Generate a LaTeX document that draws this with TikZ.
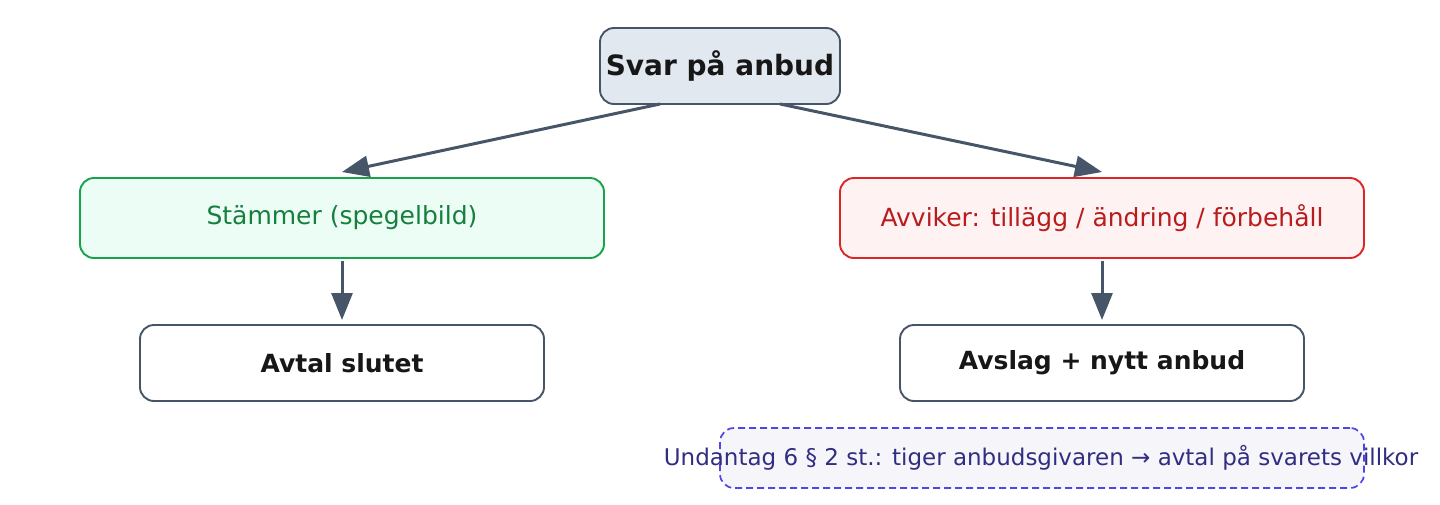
\documentclass[tikz,border=0pt]{standalone}
\usepackage{fontspec}
\setmainfont{DejaVu Sans}
\usetikzlibrary{arrows.meta}
\definecolor{slate}{HTML}{475569}
\definecolor{ink}{HTML}{171717}
\definecolor{topf}{HTML}{E2E8F0}
\definecolor{gdr}{HTML}{16A34A}
\definecolor{gfl}{HTML}{ECFDF5}
\definecolor{gtx}{HTML}{15803D}
\definecolor{rdr}{HTML}{DC2626}
\definecolor{rfl}{HTML}{FEF2F2}
\definecolor{rtx}{HTML}{B91C1C}
\definecolor{ndr}{HTML}{4F46E5}
\definecolor{nfl}{HTML}{F5F5FA}
\definecolor{ntx}{HTML}{312E81}
\begin{document}
\begin{tikzpicture}[x=1pt,y=-1pt,
 box/.style={draw=slate,line width=1.9pt,rounded corners=14pt,inner sep=0pt,anchor=center},
 arr/.style={draw=slate,line width=3pt,-{Triangle[length=27pt,width=21pt]}}]
\useasboundingbox (0,0) rectangle (1440,504);
\node[box,fill=topf,minimum width=240pt,minimum height=76pt,font=\bfseries\fontsize{28}{32}\selectfont,text=ink] (top) at (720,66) {Svar på anbud};
\node[box,draw=gdr,fill=gfl,minimum width=524pt,minimum height=80pt,font=\fontsize{25}{30}\selectfont,text=gtx] (yes) at (342,218) {Stämmer (spegelbild)};
\node[box,draw=rdr,fill=rfl,minimum width=524pt,minimum height=80pt,font=\fontsize{25}{30}\selectfont,text=rtx] (no) at (1102,218) {Avviker: tillägg / ändring / förbehåll};
\node[box,fill=white,minimum width=404pt,minimum height=76pt,font=\bfseries\fontsize{25}{30}\selectfont,text=ink] (deal) at (342,363) {Avtal slutet};
\node[box,fill=white,minimum width=404pt,minimum height=76pt,font=\bfseries\fontsize{25}{30}\selectfont,text=ink] (rej) at (1102,363) {Avslag + nytt anbud};
\node[box,draw=ndr,dashed,dash pattern=on 7pt off 4pt,line width=1.7pt,fill=nfl,minimum width=644pt,minimum height=60pt] (noteb) at (1042,458) {};
\node[font=\fontsize{23}{27}\selectfont,text=ntx] (note) at (1041,458) {Undantag 6 § 2 st.: tiger anbudsgivaren → avtal på svarets villkor};
\coordinate (t1) at (660,104); \coordinate (t2) at (780,104);
\coordinate (e1) at (342,172); \coordinate (e2) at (1102,172);
\coordinate (d1) at (342,320); \coordinate (d2) at (1102,320);
\draw[arr] (t1) -- (e1);
\draw[arr] (t2) -- (e2);
\draw[arr] ([yshift=-2pt]yes.south) -- (d1);
\draw[arr] ([yshift=-2pt]no.south) -- (d2);
\end{tikzpicture}
\end{document}
